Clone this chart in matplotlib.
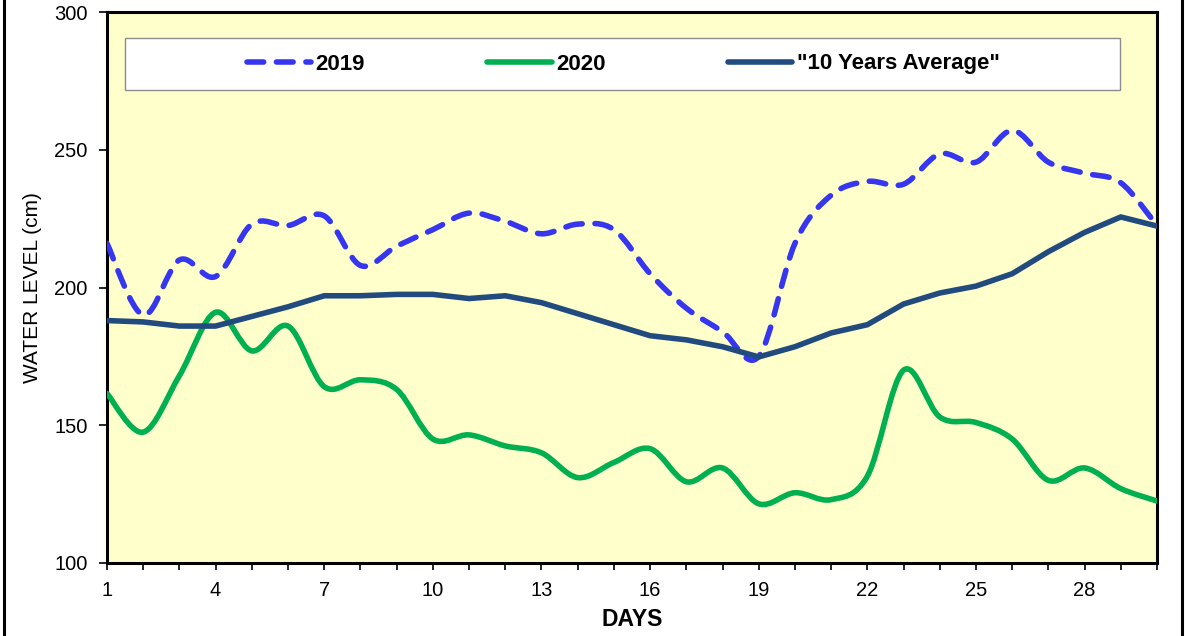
import numpy as np
import matplotlib
matplotlib.use('Agg')
import matplotlib.pyplot as plt
from matplotlib.path import Path
from matplotlib.patches import PathPatch, Rectangle
from matplotlib.lines import Line2D

plt.rcParams['font.family'] = ['Liberation Sans', 'DejaVu Sans']

days = np.arange(1, 31)
level_2019 = [216, 190, 210, 204, 223, 222.5, 226, 208, 215, 221,
              227, 224, 219.5, 223, 221, 205, 192.5, 184, 175, 216,
              233.5, 238.5, 237.5, 248.5, 245.5, 257, 245.5, 241.5, 238, 222.5]
level_2020 = [161.5, 147.5, 168, 191, 177, 186, 164, 166.5, 163, 145,
              146.5, 142.5, 140, 131, 136.5, 141.5, 129.5, 134.5, 121.5, 125.5,
              123, 131.5, 170, 153, 151, 145, 130, 134.5, 127, 122.5]
level_avg = [188, 187.5, 186, 186, 189.5, 193, 197, 197, 197.5, 197.5,
             196, 197, 194.5, 190.5, 186.5, 182.5, 181, 178.5, 174.8, 178.5,
             183.5, 186.5, 194, 198, 200.5, 205, 213, 220, 225.6, 222.3]
labels = ['2019', '2020', '"10 Years Average"']
colors = ['#3636F0', '#00B050', '#214A7E']


def smooth_path(x, y):
    # excel-like smoothed line: catmull-rom segments as cubic beziers
    n = len(x)
    verts = [(x[0], y[0])]
    codes = [Path.MOVETO]
    for i in range(n - 1):
        a = max(i - 1, 0)
        b = min(i + 2, n - 1)
        c1 = (x[i] + (x[i + 1] - x[a]) / 6, y[i] + (y[i + 1] - y[a]) / 6)
        c2 = (x[i + 1] - (x[b] - x[i]) / 6, y[i + 1] - (y[b] - y[i]) / 6)
        verts += [c1, c2, (x[i + 1], y[i + 1])]
        codes += [Path.CURVE4] * 3
    return Path(verts, codes)


fig = plt.figure(figsize=(11.85, 6.36), dpi=100)
ax = fig.add_axes([107 / 1185, 1 - 563 / 636, 1050 / 1185, 551 / 636])
ax.set_facecolor('#FFFFCC')

lw = 4.0
dash = (0, (3, 2.3))
ax.add_patch(PathPatch(smooth_path(days, level_2019), fill=False, edgecolor=colors[0],
                       lw=lw, linestyle=dash, capstyle='round', joinstyle='round', zorder=3))
ax.add_patch(PathPatch(smooth_path(days, level_2020), fill=False, edgecolor=colors[1],
                       lw=lw, capstyle='round', joinstyle='round', zorder=4))
ax.plot(days, level_avg, color=colors[2], lw=lw, zorder=5, solid_joinstyle='miter')

ax.set_xlim(1, 30)
ax.set_ylim(100, 300)
ax.set_xticks(days, minor=True)
ax.set_xticks(np.arange(1, 30, 3))
ax.set_yticks(np.arange(100, 301, 50))
ax.tick_params(axis='both', which='both', direction='out', width=1.2, colors='black')
ax.tick_params(axis='x', which='both', length=5, pad=8, labelsize=14.5)
ax.tick_params(axis='y', length=6, pad=8, labelsize=14.5)
for s in ax.spines.values():
    s.set_linewidth(2.2)
    s.set_color('black')

ax.set_xlabel('DAYS', fontsize=16.5, fontweight='bold', labelpad=6)
ax.set_ylabel('WATER LEVEL (cm)', fontsize=15, labelpad=9)

# legend box
ax.add_patch(Rectangle((18 / 1050, 1 - 78 / 551), 995 / 1050, 52 / 551,
                       transform=ax.transAxes, facecolor='white',
                       edgecolor='#8C8C8C', lw=1, zorder=6))
handles = [Line2D([], [], color=colors[0], lw=lw, linestyle=dash, dash_capstyle='round'),
           Line2D([], [], color=colors[1], lw=lw, solid_capstyle='round'),
           Line2D([], [], color=colors[2], lw=lw, solid_capstyle='round')]
ax.legend(handles, labels, loc='center', bbox_to_anchor=(516 / 1050, 1 - 52 / 551),
          ncol=3, frameon=False, prop={'weight': 'bold', 'size': 16},
          handlelength=2.9, handletextpad=0.2, columnspacing=5.5).set_zorder(7)

# outer frame edges
fig.add_artist(Rectangle((4 / 1185, -0.05), 1178 / 1185, 1.1, transform=fig.transFigure,
                         fill=False, edgecolor='black', lw=2.2))

fig.savefig('out.png', dpi=100)
